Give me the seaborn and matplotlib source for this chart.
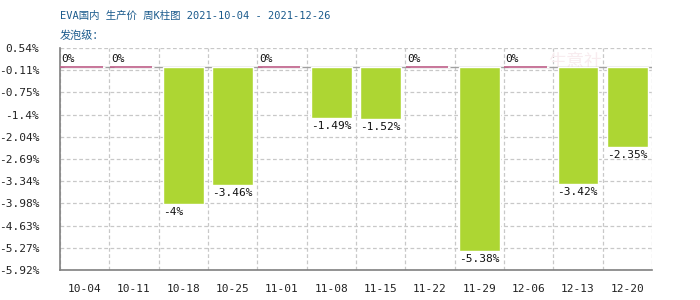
import matplotlib
matplotlib.use("Agg")
import matplotlib.pyplot as plt
import seaborn as sns
import pandas as pd

weeks = ["10-04", "10-11", "10-18", "10-25", "11-01", "11-08",
         "11-15", "11-22", "11-29", "12-06", "12-13", "12-20"]
changes = [0, 0, -4, -3.46, 0, -1.49, -1.52, 0, -5.38, 0, -3.42, -2.35]
labels = ["0%", "0%", "-4%", "-3.46%", "0%", "-1.49%", "-1.52%", "0%",
          "-5.38%", "0%", "-3.42%", "-2.35%"]
yticks = [0.54, -0.11, -0.75, -1.4, -2.04, -2.69, -3.34, -3.98, -4.63, -5.27, -5.92]
ytick_labels = ["0.54%", "-0.11%", "-0.75%", "-1.4%", "-2.04%", "-2.69%",
                "-3.34%", "-3.98%", "-4.63%", "-5.27%", "-5.92%"]
title1 = "EVA国内 生产价 周K柱图 2021-10-04 - 2021-12-26"
title2 = "发泡级："

sns.set_theme(style="white")
plt.rcParams['font.family'] = ['DejaVu Sans Mono', 'Noto Sans CJK SC']

df = pd.DataFrame({"week": weeks, "change": changes})

fig = plt.figure(figsize=(7, 3), dpi=100)
ax = fig.add_axes([60/700, 30/300, 592/700, 222/300])

sns.barplot(data=df, x="week", y="change", color="#add633", saturation=1,
            width=0.83, ax=ax, zorder=3)

ax.set_ylim(-5.92, 0.54)
ax.set_xlim(-0.5, len(weeks) - 0.5)
ax.set_yticks(yticks)
ax.set_yticklabels(ytick_labels)
ax.set_xlabel("")
ax.set_ylabel("")

# grid
for y in yticks:
    ax.axhline(y, color="#c8c8c8", lw=0.9, ls=(0, (3, 2)), zorder=0)
for i in range(len(weeks) + 1):
    ax.axvline(i - 0.5, color="#c8c8c8", lw=0.9, ls=(0, (3, 2)), zorder=0)
ax.axhline(0, color="#a0a0a0", lw=1, zorder=2)

for s in ["top", "right"]:
    ax.spines[s].set_visible(False)
for s in ["left", "bottom"]:
    ax.spines[s].set_color("#808080")
    ax.spines[s].set_linewidth(1.2)

ax.tick_params(axis="both", length=0, labelsize=8, colors="#222222")
ax.tick_params(axis="y", pad=15)
ax.tick_params(axis="x", pad=10)

for p, v, lab in zip(ax.patches, changes, labels):
    x0 = p.get_x()
    w = p.get_width()
    if v == 0:
        ax.hlines(0, x0 - 0.08, x0 + w - 0.05, color="#c0608a", lw=1.2, zorder=4)
        ax.text(x0 - 0.05, 0.08, lab, ha="left", va="bottom", fontsize=8, color="#111111")
    else:
        ax.text(x0, v - 0.08, lab, ha="left", va="top", fontsize=8, color="#111111")

# faint watermark, behind bars
ax.text(548/700, 1 - 62/300, "生意社", transform=fig.transFigure, fontsize=13,
        color="#f8ecef", family=['Noto Sans CJK SC'], ha="left", va="center", zorder=1)

fig.text(60/700, 1 - 16/300, title1, fontsize=7.5, color="#1a5a8c",
         family=['DejaVu Sans Mono', 'Noto Sans CJK SC'], ha="left", va="center")
fig.text(60/700, 1 - 36/300, title2, fontsize=8, color="#1a5a8c",
         family=['Noto Sans CJK SC'], ha="left", va="center")

fig.savefig("out.png", dpi=100)
